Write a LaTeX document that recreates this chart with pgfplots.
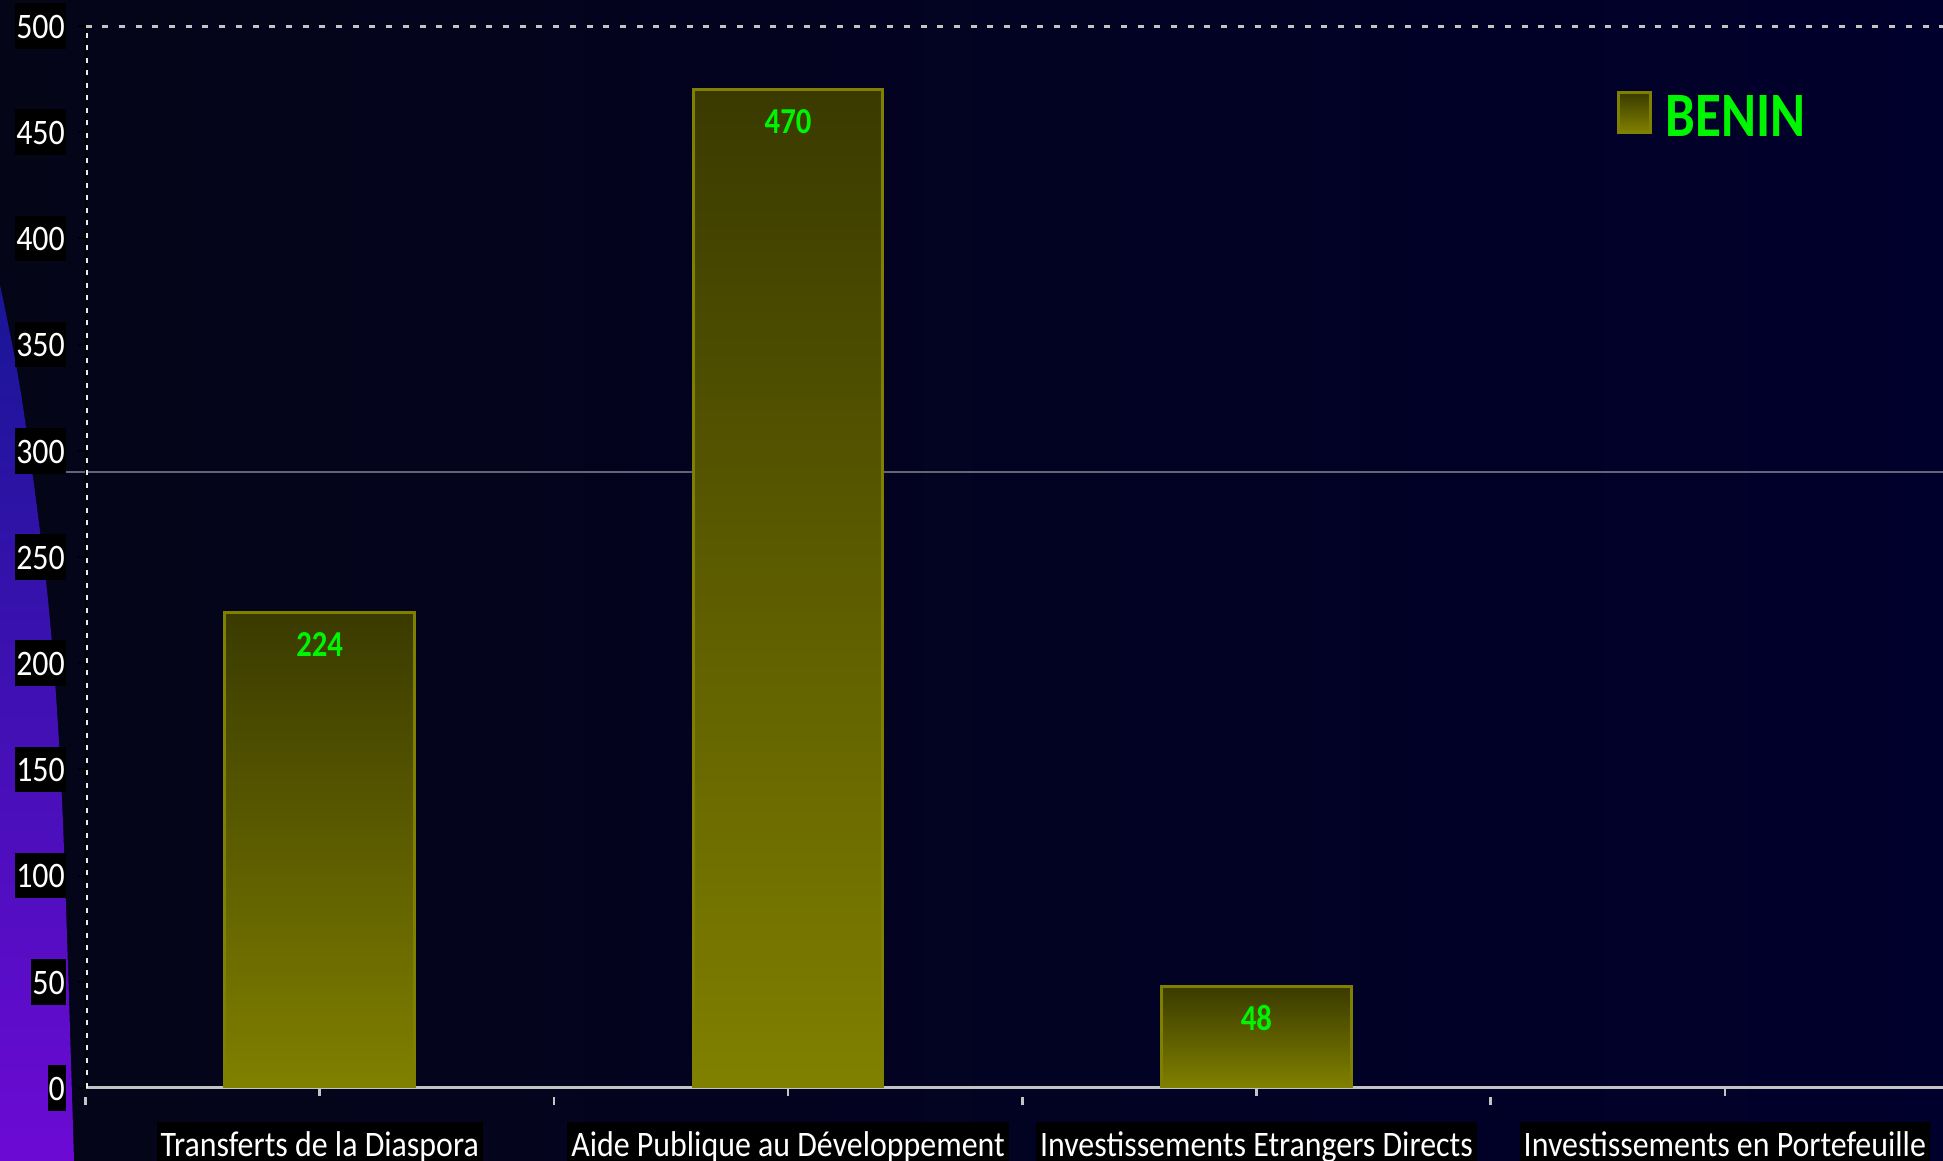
\documentclass[border=0pt]{standalone}
\usepackage{fontspec}
\setmainfont{Carlito}[FakeStretch=0.89, BoldFeatures={FakeStretch=0.84}]
\usepackage{pgfplots}
\pgfplotsset{compat=1.18}

\definecolor{bgleft}{RGB}{5,5,24}
\definecolor{bgright}{RGB}{0,0,44}
\definecolor{barTop}{RGB}{58,58,0}
\definecolor{barMid}{RGB}{108,108,0}
\definecolor{barBot}{RGB}{128,128,0}
\definecolor{barEdge}{RGB}{128,128,0}
\definecolor{valgreen}{RGB}{0,245,0}
\definecolor{axgray}{RGB}{195,195,195}
\definecolor{midline}{RGB}{100,100,120}
\definecolor{shapeTop}{RGB}{24,22,150}
\definecolor{shapeBot}{RGB}{108,10,212}

\pgfplotsset{benin bar/.style={draw=barEdge, line width=0.3mm,
    top color=barTop, middle color=barMid, bottom color=barBot}}

\begin{document}
\begin{tikzpicture}
% page = 1943 x 1161 px, 1 px = 0.1 mm
\clip (0,0) rectangle (194.3mm,116.1mm);
\shade[left color=bgleft, right color=bgright] (0,0) rectangle (194.3mm,116.1mm);
\shade[top color=shapeTop, bottom color=shapeBot]
  plot[smooth] coordinates {(0,87.6mm) (2.2mm,76.1mm) (4.8mm,56.1mm) (6.2mm,36.1mm) (7.4mm,0mm)}
  -- (0,0) -- cycle;
\draw[midline, line width=0.15mm] (6.4mm,68.9mm) -- (194.3mm,68.9mm);

\begin{axis}[
    at={(8.55mm,7.3mm)}, anchor=south west,
    scale only axis, width=187.35mm, height=106.2mm,
    xmin=-0.5, xmax=3.5, ymin=0, ymax=500,
    axis x line*=bottom, axis y line*=left,
    x axis line style={draw=axgray, line width=0.3mm},
    y axis line style={draw=black, line width=0.2mm},
    /pgf/number format/assume math mode=true,
    font=\fontsize{10.2}{12}\selectfont,
    tick align=inside,
    major tick length=0.8mm,
    xtick={0,1,2,3},
    xticklabels={Transferts de la Diaspora, Aide Publique au Développement,
                 Investissements Etrangers Directs, Investissements en Portefeuille},
    x tick style={draw=axgray, line width=0.25mm},
    extra x ticks={-0.5,0.5,1.5,2.5},
    extra x tick labels={},
    extra x tick style={x tick style={draw=axgray, line width=0.25mm, yshift=-0.9mm},
                        xticklabel style={fill=none}},
    ytick={0,50,...,500},
    y tick style={draw=black, line width=0.2mm, xshift=-0.8mm},
    yticklabel style={fill=black, text=white, inner xsep=0.1mm, inner ysep=0pt,
                      text height=1em, text depth=0.3em, xshift=-1.9mm},
    xticklabel style={fill=black, text=white, inner xsep=0.4mm, inner ysep=0pt,
                      text height=1em, text depth=0.3em, anchor=north, yshift=-2.5mm},
    ybar, bar width=0.405, bar shift=0pt,
    nodes near coords,
    nodes near coords style={anchor=center, yshift=-3.2mm, text=valgreen,
                             font=\bfseries\fontsize{10.4}{12}\selectfont},
    legend style={at={(0.817,0.913)}, anchor=west, draw=none, fill=none,
                  text=valgreen, font=\bfseries\fontsize{18}{20}\selectfont,
                  inner sep=0pt},
    legend image code/.code={
      \shade[draw=barEdge, line width=0.3mm, top color=barTop, bottom color=barBot]
        (0mm,-1.4mm) rectangle (3.2mm,2.6mm);
      \path (3.9mm,0);},
]
% one plot per bar so that each bar gets its own gradient
\addplot[benin bar] coordinates {(0,224)};
\addlegendentry{BENIN}
\addplot[benin bar, forget plot] coordinates {(1,470)};
\addplot[benin bar, forget plot] coordinates {(2,48)};

% dotted lines at 0 and 500, dashed white line on the y axis
\draw[axgray, line width=0.4mm, dash pattern=on 0.6mm off 1.07mm]
  (axis cs:-0.5,500) -- (axis cs:3.5,500);
\draw[axgray, line width=0.3mm, dash pattern=on 0.6mm off 1.07mm, yshift=-0.15mm]
  (axis cs:-0.5,0) -- (axis cs:3.5,0);
\draw[white!85!gray, line width=0.15mm, dash pattern=on 0.5mm off 0.75mm, xshift=0.15mm]
  (axis cs:-0.5,0) -- (axis cs:-0.5,500);
\end{axis}
\end{tikzpicture}
\end{document}
